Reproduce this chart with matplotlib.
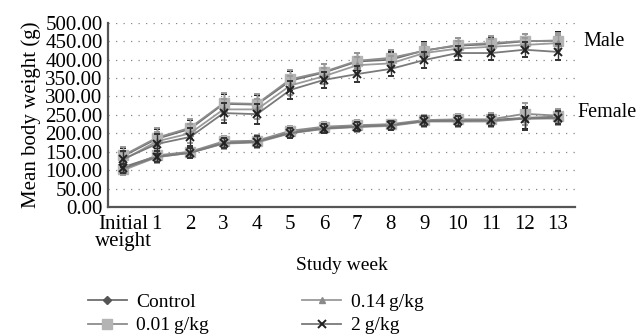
import matplotlib
matplotlib.use("Agg")
import matplotlib.pyplot as plt

plt.rcParams["font.family"] = ["Liberation Serif", "DejaVu Serif"]

weeks = ["Initial\nweight", "1", "2", "3", "4", "5", "6", "7", "8", "9", "10", "11", "12", "13"]
labels = ["Control", "0.01\u2009g/kg", "0.14\u2009g/kg", "2\u2009g/kg"]

# male means
male_control = [138, 185, 212, 280, 278, 343, 365, 395, 400, 425, 438, 442, 450, 452]
male_001 = [140, 188, 215, 282, 280, 347, 367, 397, 405, 424, 440, 445, 451, 451]
male_014 = [128, 178, 200, 265, 265, 330, 355, 385, 390, 418, 430, 435, 440, 445]
male_2 = [130, 171, 190, 255, 252, 318, 345, 361, 375, 399, 418, 418, 427, 421]

# female means
female_control = [108, 138, 148, 175, 178, 203, 215, 220, 222, 234, 236, 236, 242, 245]
female_001 = [102, 140, 150, 178, 180, 207, 218, 222, 225, 236, 238, 238, 253, 248]
female_014 = [100, 135, 147, 172, 175, 200, 212, 217, 220, 232, 232, 232, 240, 240]
female_2 = [105, 136, 147, 173, 177, 201, 213, 218, 222, 233, 234, 235, 240, 242]

# standard deviations
male_sd = [22, 26, 25, 28, 27, 25, 22, 22, 20, 22, 20, 20, 20, 22]
female_sd = [12, 15, 14, 14, 15, 13, 12, 13, 12, 14, 14, 16, 30, 18]

styles = [
    dict(marker="D", ms=4, color="#6e6e6e", mfc="#555555", mec="#555555"),
    dict(marker="s", ms=6.5, color="#8c8c8c", mfc="#b4b4b4", mec="#b4b4b4"),
    dict(marker="^", ms=5, color="#9a9a9a", mfc="#8a8a8a", mec="#8a8a8a"),
    dict(marker="x", ms=6, mew=1.4, color="#7a7a7a", mfc="#222222", mec="#222222"),
]
err_colors = ["#1a1a1a", "#9a9a9a", "#9a9a9a", "#333333"]

fig = plt.figure(figsize=(6.4, 3.36), dpi=100)
ax = fig.add_axes([0.169, 0.384, 0.729, 0.548])
x = list(range(len(weeks)))

male = [male_control, male_001, male_014, male_2]
female = [female_control, female_001, female_014, female_2]
for i in range(4):
    for data, sd, lab in [(male[i], male_sd, labels[i]), (female[i], female_sd, None)]:
        ax.errorbar(x, data, yerr=sd, ecolor=err_colors[i], elinewidth=1.0,
                    capsize=2.5, capthick=1.4, lw=1.3, label=lab, zorder=3 + i,
                    **styles[i])

ax.set_ylim(0, 500)
ax.set_xlim(-0.45, 13.5)
ax.set_yticks(range(0, 501, 50))
ax.set_yticklabels([f"{v:.2f}" for v in range(0, 501, 50)])
ax.set_xticks(x)
ax.set_xticklabels(weeks)
ax.tick_params(length=0, labelsize=15, pad=4)
ax.tick_params(axis="x", pad=6)
for lbl in ax.get_xticklabels()[:1]:
    lbl.set_linespacing(0.85)
ax.yaxis.grid(True, ls=(0, (1, 5)), color="#888888", lw=0.9)
for s in ["top", "right"]:
    ax.spines[s].set_visible(False)
for s in ["left", "bottom"]:
    ax.spines[s].set_color("#555555")
    ax.spines[s].set_linewidth(1.6)

ax.set_ylabel("Mean body weight (g)", fontsize=15, labelpad=3)
ax.set_xlabel("Study week", fontsize=14, labelpad=4)

fig.text(0.911, 0.875, "Male", fontsize=14.5, va="center", ha="left")
fig.text(0.902, 0.664, "Female", fontsize=14.5, va="center", ha="left")

handles, labs = ax.get_legend_handles_labels()
handles = [h[0] for h in handles]
fig.legend(handles, labs, ncol=2, loc="upper left", bbox_to_anchor=(0.125, 0.15),
           frameon=False, fontsize=14, columnspacing=4.8, handlelength=2.0,
           labelspacing=0.3, handletextpad=0.5, borderaxespad=0)

fig.savefig("out.png", dpi=100)
